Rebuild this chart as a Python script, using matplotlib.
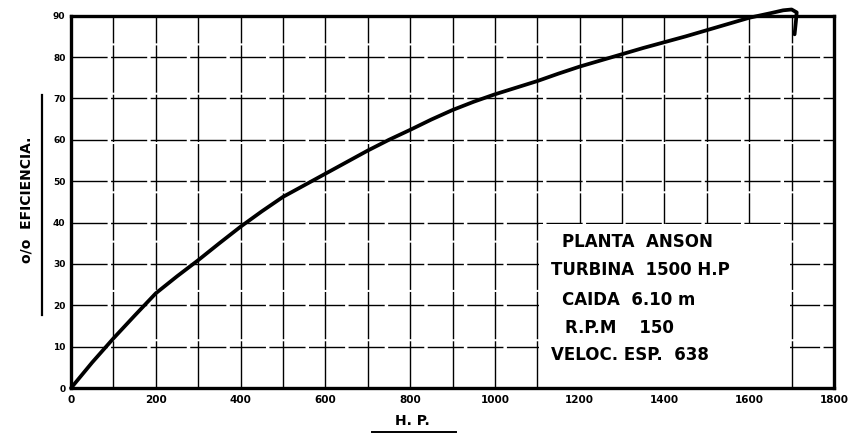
import matplotlib.pyplot as plt
from matplotlib.patches import Rectangle

# values
hp = [0, 50, 100, 150, 200, 250, 300, 350, 400, 450, 500, 550, 600, 650, 700,
      750, 800, 850, 900, 950, 1000, 1050, 1100, 1150, 1200, 1250, 1300, 1350,
      1400, 1450, 1500, 1550, 1600, 1650, 1680, 1700, 1712, 1710, 1707]
eff = [0, 6.2, 12.0, 17.5, 22.9, 27.0, 30.9, 35.0, 39.0, 42.7, 46.2, 49.0, 51.8,
       54.6, 57.4, 60.0, 62.4, 64.9, 67.2, 69.2, 71.0, 72.6, 74.2, 76.0, 77.7,
       79.2, 80.7, 82.2, 83.6, 85.0, 86.5, 88.0, 89.5, 90.6, 91.3, 91.5, 90.8,
       88.5, 85.5]

x_ticks = list(range(0, 1801, 200))
y_ticks = list(range(0, 91, 10))
info_lines = ['PLANTA  ANSON', 'TURBINA  1500 H.P', 'CAIDA  6.10 m',
              'R.P.M    150', 'VELOC. ESP.  638']

plt.rcParams['font.family'] = ['DejaVu Sans']

fig = plt.figure(figsize=(8.63, 4.36), dpi=100)
ax = fig.add_axes([0.0823, 0.110, 0.8841, 0.854])

ax.set_xlim(0, 1800)
ax.set_ylim(0, 90)

# hand-drawn grid, every 100 HP and every 10 %
for xv in range(100, 1800, 100):
    ax.axvline(xv, color='black', lw=1.0, ls=(0, (34, 1.5)), zorder=1)
for yv in range(10, 90, 10):
    ax.axhline(yv, color='black', lw=1.0, ls=(0, (26, 2.5)), zorder=1)

# blank panel where the data block is lettered
ax.add_patch(Rectangle((1104, 0), 592, 39.6, facecolor='white',
                       edgecolor='none', zorder=2))

ax.plot(hp, eff, color='black', lw=2.7, solid_capstyle='round',
        solid_joinstyle='round', clip_on=False, zorder=3)

for s in ax.spines.values():
    s.set_linewidth(2.4)
    s.set_color('black')

ax.set_xticks(x_ticks)
ax.set_xticklabels([str(v) for v in x_ticks], fontsize=7.5, fontweight='bold')
ax.set_yticks(y_ticks)
ax.set_yticklabels([str(v) for v in y_ticks], fontsize=6.5, fontweight='bold')
ax.tick_params(length=0, pad=4)
ax.tick_params(axis='x', pad=5)

# info block
ys = [242, 270, 300, 328, 355]
xs = [562, 551, 562, 565, 551]
for t, xp, yp in zip(info_lines, xs, ys):
    fig.text(xp / 863, 1 - yp / 436, t, fontsize=12, fontweight='bold',
             va='center', ha='left')

# axis titles with hand-drawn underline
fig.text(27 / 863, 1 - 200 / 436, 'o/o  EFICIENCIA.', rotation=90,
         fontsize=10, fontweight='bold', va='center', ha='center')
fig.add_artist(plt.Line2D([42 / 863, 42 / 863], [1 - 95 / 436, 1 - 315 / 436],
                          color='black', lw=1.6))
fig.text(412 / 863, 1 - 421 / 436, 'H. P.', fontsize=10, fontweight='bold',
         va='center', ha='center')
fig.add_artist(plt.Line2D([372 / 863, 456 / 863], [1 - 432 / 436, 1 - 432 / 436],
                          color='black', lw=1.4))

fig.savefig('out.png', dpi=100)
